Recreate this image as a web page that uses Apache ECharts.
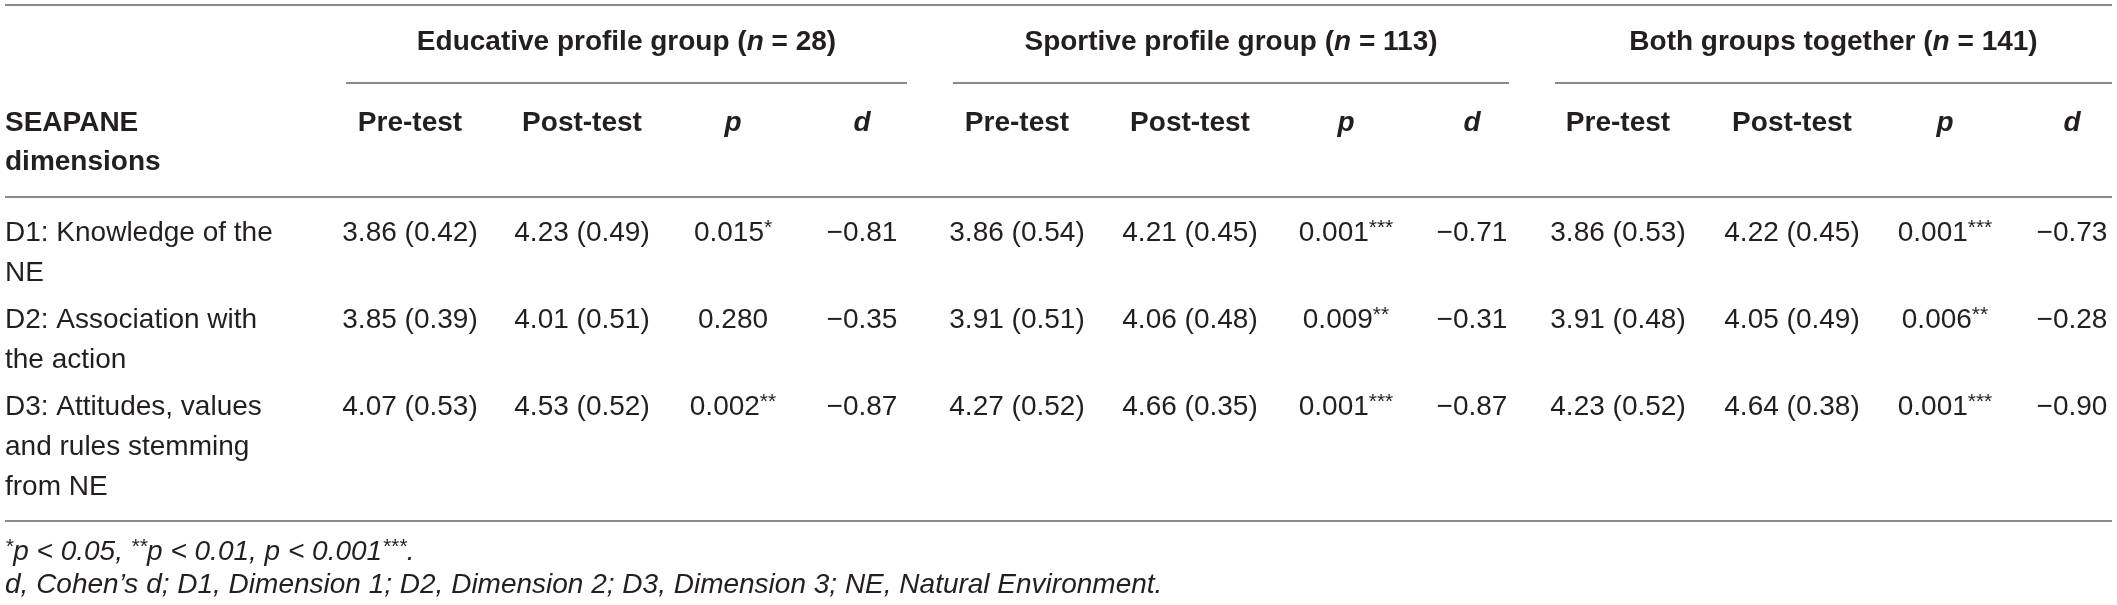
<!DOCTYPE html>
<html>
<head>
<meta charset="utf-8">
<script src="https://cdn.jsdelivr.net/npm/echarts@6/dist/echarts.min.js"></script>
<style>
html,body{margin:0;padding:0;background:#fff;}
#chart{width:2117px;height:605px;}
</style>
</head>
<body>
<div id="chart"></div>
<script>
// ---------- DATA ----------
const groupNames = ['Educative profile group', 'Sportive profile group', 'Both groups together'];
const groupN = [28, 113, 141];
const subHeaders = ['Pre-test', 'Post-test', 'p', 'd'];
const stubHeader = ['SEAPANE', 'dimensions'];
const dimensionLabels = [
  ['D1: Knowledge of the', 'NE'],
  ['D2: Association with', 'the action'],
  ['D3: Attitudes, values', 'and rules stemming', 'from NE']
];
// Educative profile group
const eduPreMean = [3.86, 3.85, 4.07];
const eduPreSD = [0.42, 0.39, 0.53];
const eduPostMean = [4.23, 4.01, 4.53];
const eduPostSD = [0.49, 0.51, 0.52];
const eduP = [0.015, 0.280, 0.002];
const eduD = [-0.81, -0.35, -0.87];
// Sportive profile group
const spoPreMean = [3.86, 3.91, 4.27];
const spoPreSD = [0.54, 0.51, 0.52];
const spoPostMean = [4.21, 4.06, 4.66];
const spoPostSD = [0.45, 0.48, 0.35];
const spoP = [0.001, 0.009, 0.001];
const spoD = [-0.71, -0.31, -0.87];
// Both groups together
const allPreMean = [3.86, 3.91, 4.23];
const allPreSD = [0.53, 0.48, 0.52];
const allPostMean = [4.22, 4.05, 4.64];
const allPostSD = [0.45, 0.49, 0.38];
const allP = [0.001, 0.006, 0.001];
const allD = [-0.73, -0.28, -0.90];

const footnote1 = '{si|*}p < 0.05, {si|**}p < 0.01, p < 0.001{si|***}.';
const footnote2 = 'd, Cohen\u2019s d; D1, Dimension 1; D2, Dimension 2; D3, Dimension 3; NE, Natural Environment.';

// ---------- LAYOUT (positions / styles, not data) ----------
const W = 2117, H = 605;
const FONT = "'Liberation Sans', Arial, Helvetica, sans-serif";
const FS = 28;
const TXT = '#231f20';
const RULE = '#8a8a8a';
const colCenters = [[410, 582, 733, 862], [1017, 1190, 1346, 1472], [1618, 1792, 1945, 2072]];
const groupSpans = [[346, 907], [953, 1509], [1555, 2112]];
const leftX = 5, rightX = 2112;
const yTop = 5, yGroupTitle = 42, yGroupRule = 83, ySub = 123, headLineH = 39, yHeadRule = 197;
const rowTops = [233, 320, 407], bodyLineH = 40;
const yBottomRule = 521, yFoot = [552, 585];

function fmtMS(m, s) { return m.toFixed(2) + ' (' + s.toFixed(2) + ')'; }
function fmtP(p) {
  const stars = p <= 0.001 ? '***' : p < 0.01 ? '**' : p < 0.05 ? '*' : '';
  return p.toFixed(3) + (stars ? '{sup|' + stars + '}' : '');
}
function fmtD(d) { return (d < 0 ? '\u2212' : '') + Math.abs(d).toFixed(2); }

const groupData = [
  [eduPreMean, eduPreSD, eduPostMean, eduPostSD, eduP, eduD],
  [spoPreMean, spoPreSD, spoPostMean, spoPostSD, spoP, spoD],
  [allPreMean, allPreSD, allPostMean, allPostSD, allP, allD]
];

const cells = [];
function addCell(x, y, text, opt) { cells.push(Object.assign({ x: x, y: y, text: text, align: 'center', weight: 'normal', italic: false }, opt || {})); }

// header
groupNames.forEach((g, gi) => {
  const cx = (groupSpans[gi][0] + groupSpans[gi][1]) / 2;
  addCell(cx, yGroupTitle, g + ' ({ni|n} = ' + groupN[gi] + ')', { weight: 'bold' });
  subHeaders.forEach((s, si) => {
    const it = (s === 'p' || s === 'd');
    addCell(colCenters[gi][si], ySub, s, { weight: 'bold', italic: it });
  });
});
stubHeader.forEach((s, i) => addCell(leftX, ySub + i * headLineH, s, { align: 'left', weight: 'bold' }));

// body
dimensionLabels.forEach((lines, r) => {
  lines.forEach((l, li) => addCell(leftX, rowTops[r] + li * bodyLineH, l, { align: 'left' }));
  groupData.forEach((gd, gi) => {
    const vals = [fmtMS(gd[0][r], gd[1][r]), fmtMS(gd[2][r], gd[3][r]), fmtP(gd[4][r]), fmtD(gd[5][r])];
    vals.forEach((v, ci) => addCell(colCenters[gi][ci], rowTops[r], v));
  });
});

// footnotes
addCell(leftX, yFoot[0], footnote1, { align: 'left', italic: true });
addCell(leftX, yFoot[1], footnote2, { align: 'left', italic: true });

// rules
const rules = [
  [leftX, rightX, yTop],
  [groupSpans[0][0], groupSpans[0][1], yGroupRule],
  [groupSpans[1][0], groupSpans[1][1], yGroupRule],
  [groupSpans[2][0], groupSpans[2][1], yGroupRule],
  [leftX, rightX, yHeadRule],
  [leftX, rightX, yBottomRule]
];

const chart = echarts.init(document.getElementById('chart'), null, { renderer: 'canvas' });
chart.setOption({
  backgroundColor: '#ffffff',
  animation: false,
  grid: { left: 0, right: 0, top: 0, bottom: 0 },
  xAxis: { type: 'value', min: 0, max: W, show: false },
  yAxis: { type: 'value', min: 0, max: H, inverse: true, show: false },
  series: [
    {
      type: 'custom',
      clip: false,
      data: rules.map(r => [r[0], r[2], r[1]]),
      renderItem: function (params, api) {
        const a = api.coord([api.value(0), api.value(1)]);
        const b = api.coord([api.value(2), api.value(1)]);
        return { type: 'line', shape: { x1: a[0], y1: a[1], x2: b[0], y2: b[1] }, style: { stroke: RULE, lineWidth: 2 } };
      }
    },
    {
      type: 'custom',
      clip: false,
      data: cells.map(c => [c.x, c.y]),
      renderItem: function (params, api) {
        const c = cells[params.dataIndex];
        const p = api.coord([api.value(0), api.value(1)]);
        return {
          type: 'text',
          x: p[0], y: p[1],
          style: {
            text: c.text,
            fill: TXT,
            fontFamily: FONT,
            fontSize: FS,
            fontWeight: c.weight,
            fontStyle: c.italic ? 'italic' : 'normal',
            align: c.align,
            verticalAlign: 'middle',
            lineHeight: 40,
            rich: {
              ni: { fontFamily: FONT, fontSize: FS, fontWeight: 'bold', fontStyle: 'italic', fill: TXT, lineHeight: 40 },
              sup: { fontFamily: FONT, fontSize: 21, fill: TXT, verticalAlign: 'middle', padding: [0, 0, 9, 0] },
              si: { fontFamily: FONT, fontSize: 21, fontStyle: 'italic', fill: TXT, verticalAlign: 'middle', padding: [0, 0, 9, 0] }
            }
          }
        };
      }
    }
  ]
});
</script>
</body>
</html>
